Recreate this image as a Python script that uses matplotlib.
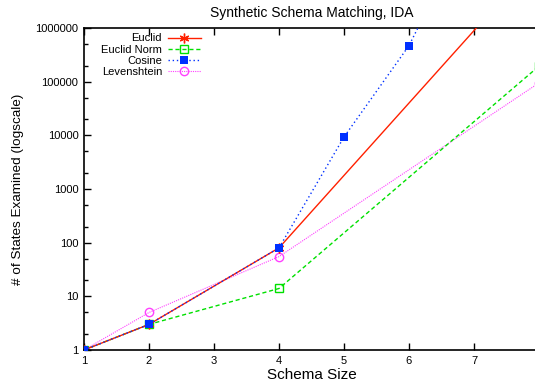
import matplotlib
matplotlib.use('Agg')
import matplotlib.pyplot as plt
from matplotlib.ticker import FixedLocator, FuncFormatter, LogLocator, NullFormatter

plt.rcParams['font.family'] = ['Liberation Sans', 'DejaVu Sans']

# values (log scale)
euclid_x = [1, 2, 4, 8]
euclid_y = [1, 3, 80, 2.0e7]
norm_x = [1, 2, 4, 8]
norm_y = [1, 3, 14, 1.95e5]
cosine_x = [1, 2, 4, 5, 6, 7]
cosine_y = [1, 3, 80, 9300, 4.7e5, 1.2e8]
leven_x = [1, 2, 4, 8]
leven_y = [1, 5, 55, 9.5e4]

x_ticks = [1, 2, 3, 4, 5, 6, 7]
y_ticks = [1, 10, 100, 1000, 10000, 100000, 1000000]

fig = plt.figure(figsize=(5.35, 3.9), dpi=100)
ax = fig.add_axes([84 / 535, 40 / 390, 455 / 535, 322 / 390])

ax.plot(euclid_x, euclid_y, color='#ff2000', lw=1.0, ls='-', marker=(6, 2, 0),
        ms=7, mew=1.0, label='Euclid', zorder=3)
ax.plot(norm_x, norm_y, color='#00e000', lw=1.0, ls=(0, (3, 2)), marker='s',
        ms=6, mfc='none', mew=1.0, label='Euclid Norm', zorder=2)
ax.plot(cosine_x, cosine_y, color='#0030ff', lw=1.0, ls=(0, (1, 2)), marker='s',
        ms=6, mew=0, label='Cosine', zorder=4)
ax.plot(leven_x, leven_y, color='#ff40ff', lw=0.8, ls=(0, (1, 1)), marker='o',
        ms=6, mfc='none', mew=1.0, label='Levenshtein', zorder=1)

ax.set_yscale('log')
ax.set_xlim(1, 8)
ax.set_ylim(1, 1e6)

ax.xaxis.set_major_locator(FixedLocator(x_ticks))
ax.yaxis.set_major_locator(FixedLocator(y_ticks))
ax.yaxis.set_major_formatter(FuncFormatter(lambda v, p: '%d' % round(v)))
ax.yaxis.set_minor_locator(LogLocator(base=10, subs=(2.0, 5.0)))
ax.yaxis.set_minor_formatter(NullFormatter())

ax.tick_params(axis='both', which='major', direction='in', length=5, width=1,
               labelsize=8, top=True, right=False, pad=4)
ax.tick_params(axis='y', which='minor', direction='in', length=3, width=1, right=False)
for s in ax.spines.values():
    s.set_linewidth(1.2)

ax.set_title('Synthetic Schema Matching, IDA', fontsize=10, pad=8)
ax.set_xlabel('Schema Size', fontsize=11, labelpad=2)
ax.set_ylabel('# of States Examined (logscale)', fontsize=9.7, labelpad=8)

ax.legend(loc='upper right', bbox_to_anchor=(0.262, 0.99), frameon=False,
          markerfirst=False, fontsize=8, handlelength=3.0, handletextpad=0.5,
          labelspacing=0.1, borderpad=0.2, borderaxespad=0)

fig.savefig('out.png', dpi=100)
